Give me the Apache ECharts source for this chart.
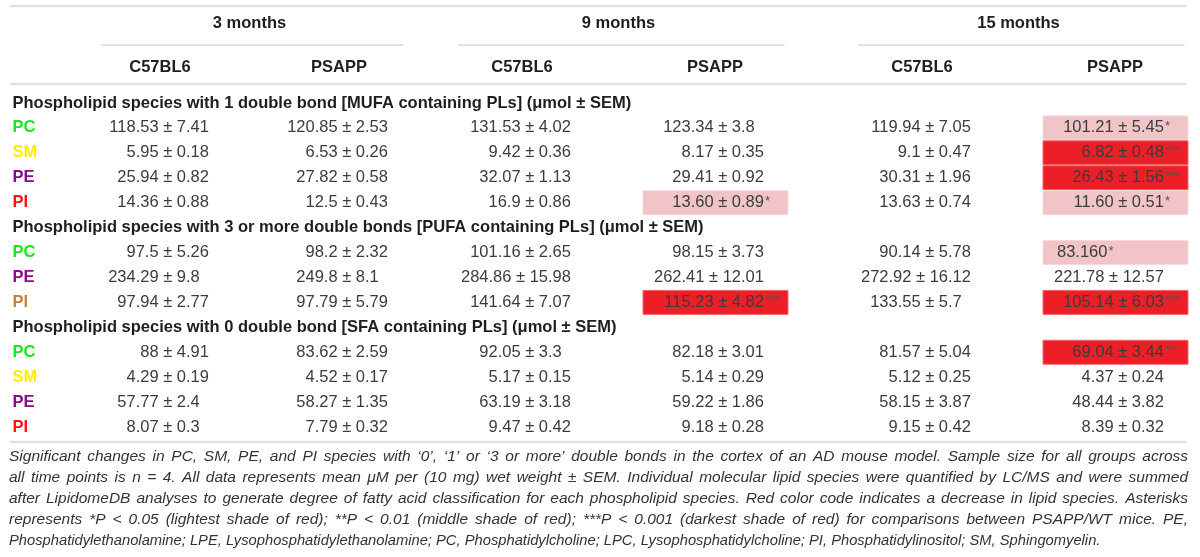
<!DOCTYPE html>
<html><head><meta charset="utf-8">
<script src="https://cdn.jsdelivr.net/npm/echarts/dist/echarts.min.js"></script>
<style>html,body{margin:0;padding:0;background:#fff}#c{width:1200px;height:557px}</style>
</head><body><div id="c"></div>
<script>
// ---------- data ----------
const months = ['3 months', '9 months', '15 months'];
const strains = ['C57BL6', 'PSAPP'];
const sectionTitles = [
  'Phospholipid species with 1 double bond [MUFA containing PLs] (\u03bcmol \u00b1 SEM)',
  'Phospholipid species with 3 or more double bonds [PUFA containing PLs] (\u03bcmol \u00b1 SEM)',
  'Phospholipid species with 0 double bond [SFA containing PLs] (\u03bcmol \u00b1 SEM)'
];
const mufaSpecies = ['PC', 'SM', 'PE', 'PI'];
const pufaSpecies = ['PC', 'PE', 'PI'];
const sfaSpecies = ['PC', 'SM', 'PE', 'PI'];
// columns: 3mo C57BL6, 3mo PSAPP, 9mo C57BL6, 9mo PSAPP, 15mo C57BL6, 15mo PSAPP
const mufaValues = [
  ['118.53 ± 7.41', '120.85 ± 2.53', '131.53 ± 4.02', '123.34 ± 3.8', '119.94 ± 7.05', '101.21 ± 5.45'],
  ['5.95 ± 0.18', '6.53 ± 0.26', '9.42 ± 0.36', '8.17 ± 0.35', '9.1 ± 0.47', '6.82 ± 0.48'],
  ['25.94 ± 0.82', '27.82 ± 0.58', '32.07 ± 1.13', '29.41 ± 0.92', '30.31 ± 1.96', '26.43 ± 1.56'],
  ['14.36 ± 0.88', '12.5 ± 0.43', '16.9 ± 0.86', '13.60 ± 0.89', '13.63 ± 0.74', '11.60 ± 0.51']
];
const mufaSig = [[0,0,0,0,0,1],[0,0,0,0,0,3],[0,0,0,0,0,3],[0,0,0,1,0,1]];
const pufaValues = [
  ['97.5 ± 5.26', '98.2 ± 2.32', '101.16 ± 2.65', '98.15 ± 3.73', '90.14 ± 5.78', '83.160'],
  ['234.29 ± 9.8', '249.8 ± 8.1', '284.86 ± 15.98', '262.41 ± 12.01', '272.92 ± 16.12', '221.78 ± 12.57'],
  ['97.94 ± 2.77', '97.79 ± 5.79', '141.64 ± 7.07', '115.23 ± 4.82', '133.55 ± 5.7', '105.14 ± 6.03']
];
const pufaSig = [[0,0,0,0,0,1],[0,0,0,0,0,0],[0,0,0,3,0,3]];
const sfaValues = [
  ['88 ± 4.91', '83.62 ± 2.59', '92.05 ± 3.3', '82.18 ± 3.01', '81.57 ± 5.04', '69.04 ± 3.44'],
  ['4.29 ± 0.19', '4.52 ± 0.17', '5.17 ± 0.15', '5.14 ± 0.29', '5.12 ± 0.25', '4.37 ± 0.24'],
  ['57.77 ± 2.4', '58.27 ± 1.35', '63.19 ± 3.18', '59.22 ± 1.86', '58.15 ± 3.87', '48.44 ± 3.82'],
  ['8.07 ± 0.3', '7.79 ± 0.32', '9.47 ± 0.42', '9.18 ± 0.28', '9.15 ± 0.42', '8.39 ± 0.32']
];
const sfaSig = [[0,0,0,0,0,2],[0,0,0,0,0,0],[0,0,0,0,0,0],[0,0,0,0,0,0]];
const captionLines = [
  'Significant changes in PC, SM, PE, and PI species with \u20180\u2019, \u20181\u2019 or \u20183 or more\u2019 double bonds in the cortex of an AD mouse model. Sample size for all groups across',
  'all time points is n = 4. All data represents mean \u03bcM per (10 mg) wet weight \u00b1 SEM. Individual molecular lipid species were quantified by LC/MS and were summed',
  'after LipidomeDB analyses to generate degree of fatty acid classification for each phospholipid species. Red color code indicates a decrease in lipid species. Asterisks',
  'represents *P < 0.05 (lightest shade of red); **P < 0.01 (middle shade of red); ***P < 0.001 (darkest shade of red) for comparisons between PSAPP/WT mice. PE,',
  'Phosphatidylethanolamine; LPE, Lysophosphatidylethanolamine; PC, Phosphatidylcholine; LPC, Lysophosphatidylcholine; PI, Phosphatidylinositol; SM, Sphingomyelin.'
];

// ---------- styles ----------
const mufaColors = ['#1ee61e', '#ffee00', '#8a0a8a', '#ff1414'];
const pufaColors = ['#1ee61e', '#8a0a8a', '#c5833c'];
const sfaColors = ['#1ee61e', '#ffee00', '#8a0a8a', '#ff1414'];
const sigFill = [null, '#f1c5c8', '#ec1f26', '#ec1f26'];
const sigStroke = [null, '#f6dadb', '#f2696c', '#f2696c'];
const FF = '"Liberation Sans", Arial, Helvetica, sans-serif';
const FS = 16.5;
const TXT = '#3c3c3c';
const HEAD = '#1e1e1e';

// ---------- build rows ----------
const sections = [
  [sectionTitles[0], mufaSpecies, mufaValues, mufaSig, mufaColors],
  [sectionTitles[1], pufaSpecies, pufaValues, pufaSig, pufaColors],
  [sectionTitles[2], sfaSpecies, sfaValues, sfaSig, sfaColors]
];
const rows = [];
sections.forEach(([title, sp, vals, sig, cols]) => {
  rows.push({kind: 'title', text: title});
  sp.forEach((s, i) => rows.push({kind: 'sp', text: s, color: cols[i], values: vals[i], sig: sig[i]}));
});
const rowIds = rows.map((r, i) => 'r' + i);

const rich = {};
rows.forEach((r, i) => {
  rich['r' + i] = r.kind === 'title'
    ? {fontFamily: FF, fontWeight: 'bold', fontSize: FS, color: HEAD}
    : {fontFamily: FF, fontWeight: 'bold', fontSize: FS, color: r.color};
});

// grids: one per age group
const gridRects = [
  {left: 70.5, width: 358},
  {left: 425.5, width: 386},
  {left: 825.5, width: 386}
];
const gridTop = 90.5, gridHeight = 349;

const grids = [], xAxes = [], yAxes = [], series = [];
months.forEach((m, g) => {
  grids.push({left: gridRects[g].left, width: gridRects[g].width, top: gridTop, height: gridHeight,
    outerBoundsMode: 'none', containLabel: false});
  xAxes.push({
    gridIndex: g, type: 'category', data: strains, position: 'top', boundaryGap: true,
    axisLine: {show: false}, axisTick: {show: false}, splitLine: {show: false},
    axisLabel: {interval: 0, margin: 23.5, verticalAlign: 'middle', fontFamily: FF, fontWeight: 'bold', fontSize: FS, color: HEAD},
    name: m, nameLocation: 'middle', nameGap: 67.5,
    nameTextStyle: {fontFamily: FF, fontWeight: 'bold', fontSize: FS, color: HEAD, verticalAlign: 'middle'}
  });
  yAxes.push({
    gridIndex: g, type: 'category', data: rowIds, inverse: true, boundaryGap: true,
    axisLine: {show: false}, axisTick: {show: false}, splitLine: {show: false},
    axisLabel: g === 0 ? {
      show: true, interval: 0, margin: 58, align: 'left', hideOverlap: false,
      formatter: (v, i) => '{' + v + '|' + rows[i].text + '}', rich: rich
    } : {show: false}
  });
  const cells = [], data = [];
  rows.forEach((r, ri) => {
    if (r.kind !== 'sp') return;
    for (let c = 0; c < 2; c++) {
      data.push([c, ri]);
      cells.push({text: r.values[g * 2 + c], sig: r.sig[g * 2 + c]});
    }
  });
  series.push({
    type: 'custom', xAxisIndex: g, yAxisIndex: g, data: data, encode: {x: 0, y: 1},
    silent: true, clip: false,
    renderItem: function (params, api) {
      const p = api.coord([api.value(0), api.value(1)]);
      const bw = api.size([1, 0])[0];
      const cell = cells[params.dataIndex];
      const ch = [];
      if (cell.sig) {
        ch.push({type: 'rect', shape: {x: p[0] - 72, y: p[1] - 12, width: 145, height: 24},
          style: {fill: sigFill[cell.sig], stroke: sigStroke[cell.sig], lineWidth: 1}});
      }
      const stars = cell.sig ? '{s|' + '*'.repeat(cell.sig) + '}' : '';
      const richCell = {
        d: {fontFamily: FF, fontSize: FS, fill: TXT, lineHeight: 20},
        s: {fontFamily: FF, fontSize: 13, fill: '#555', verticalAlign: 'top', lineHeight: 20, padding: [2, 0, 0, 1]}
      };
      const parts = cell.text.split(' ± ');
      if (parts.length === 2) {
        const sem = parts[1].split('.');
        const anchor = p[0] + 26;
        ch.push({type: 'text', x: anchor, y: p[1],
          style: {text: parts[0] + ' \u00b1 ' + sem[0], fontFamily: FF, fontSize: FS, fill: TXT, align: 'right', verticalAlign: 'middle'}});
        ch.push({type: 'text', x: anchor, y: p[1],
          style: {text: '{d|.' + (sem[1] || '') + '}' + stars, rich: richCell, align: 'left', verticalAlign: 'middle'}});
      } else {
        ch.push({type: 'text', x: p[0] - 58, y: p[1],
          style: {text: '{d|' + cell.text + '}' + stars, rich: richCell, align: 'left', verticalAlign: 'middle'}});
      }
      // group underline drawn once per group
      if (params.dataIndex === 0) {
        const p1 = api.coord([1, api.value(1)]);
        const ly = params.coordSys.y - 45.5;
        ch.push({type: 'line', shape: {x1: p[0] - 0.33 * bw, y1: ly, x2: p1[0] + 0.36 * bw, y2: ly},
          style: {stroke: '#c4c4c4', lineWidth: 1.2}});
      }
      return {type: 'group', children: ch};
    }
  });
});

// ---------- caption (justified) ----------
const mctx = document.createElement('canvas').getContext('2d');
const capLeft = 9, capRight = 1188, capTop = 457, capLH = 21;
const capSize = 15.5;
const graphics = [];
[6, 84, 442].forEach(y => graphics.push({type: 'line', shape: {x1: 10, y1: y, x2: 1186, y2: y},
  style: {stroke: '#e2e2e2', lineWidth: 2.4}, silent: true}));
captionLines.forEach((line, li) => {
  const last = li === captionLines.length - 1;
  let sx = last ? 0.95 : 1;
  const font = 'italic ' + capSize + 'px ' + FF;
  mctx.font = font;
  const y = capTop + li * capLH;
  const words = line.split(' ');
  const spaceW = mctx.measureText(' ').width;
  let widths = words.map(w => mctx.measureText(w).width * sx);
  let total = widths.reduce((a, b) => a + b, 0);
  const avail = capRight - capLeft;
  if (!last && total + (words.length - 1) * spaceW * 0.9 > avail) {
    const k = (avail - (words.length - 1) * spaceW * 0.9) / total;
    sx *= k; widths = widths.map(w => w * k); total *= k;
  }
  const gap = last ? spaceW * sx : (avail - total) / (words.length - 1);
  let x = capLeft;
  words.forEach((w, wi) => {
    graphics.push({type: 'text', x: x, y: y, scaleX: sx, silent: true,
      style: {text: w, font: font, fill: '#333', align: 'left', verticalAlign: 'middle'}});
    x += widths[wi] + gap;
  });
});

const chart = echarts.init(document.getElementById('c'), null, {renderer: 'canvas'});
chart.setOption({
  animation: false,
  backgroundColor: '#fff',
  grid: grids, xAxis: xAxes, yAxis: yAxes, series: series,
  graphic: {elements: graphics}
});
</script></body></html>
